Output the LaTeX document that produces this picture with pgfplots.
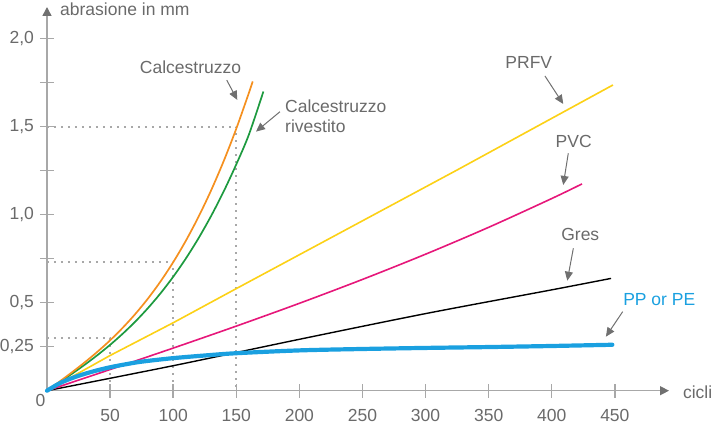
\documentclass[border=0pt]{standalone}
\usepackage{fontspec}
\setmainfont{Liberation Sans}
\usepackage{pgfplots}
\pgfplotsset{compat=1.18}
\usetikzlibrary{arrows.meta}
\definecolor{cOrange}{HTML}{F5901F}
\definecolor{cGreen}{HTML}{1D9A3F}
\definecolor{cYellow}{HTML}{FCD116}
\definecolor{cPink}{HTML}{E6177A}
\definecolor{cBlue}{HTML}{1AA0E0}
\definecolor{txtgray}{HTML}{6A6A6A}
\definecolor{axisgray}{HTML}{A8A8A8}
\definecolor{dotgray}{HTML}{A8A8A8}
\definecolor{arrgray}{HTML}{707070}
\begin{document}
\fontsize{17.5}{21}\selectfont
\begin{tikzpicture}
\begin{axis}[
  name=ax, at={(0,0)}, anchor=south west,
  scale only axis, width=622pt, height=383.7pt,
  xmin=0, xmax=492.9, ymin=0, ymax=2.18,
  enlargelimits=false, clip=false,
  axis lines=left,
  axis line style={draw=axisgray, line width=1.4pt, -{Triangle[length=9pt,width=9pt,color=arrgray]}},
  xtick={50,100,...,450},
  ytick={0.25,0.5,1,1.5,2},
  yticklabels={{0,25},{0,5},{1,0},{1,5},{2,0}},
  extra y ticks={0.75,1.25,1.75},
  extra y tick labels={},
  tick align=center,
  major tick length=14pt,
  tick style={draw=axisgray, line width=1.4pt},
  every tick label/.append style={font=\fontsize{17.5}{21}\selectfont, text=txtgray},
  xticklabel style={yshift=-6pt},
  /pgf/number format/assume math mode=true,
]
% dotted guide lines
\addplot[draw=dotgray, line width=1.8pt, dash pattern=on 1.8pt off 5.2pt] coordinates {(0,1.5) (150,1.5) (150,0)};
\addplot[draw=dotgray, line width=1.8pt, dash pattern=on 1.8pt off 5.2pt] coordinates {(0,0.733) (100,0.733) (100,0)};
\addplot[draw=dotgray, line width=1.8pt, dash pattern=on 1.8pt off 5.2pt] coordinates {(0,0.298) (50,0.298) (50,0)};
% Gres
\addplot[black, line width=1.4pt, smooth] coordinates {(0,0) (100,0.142) (200,0.292) (300,0.438) (400,0.573) (447,0.638)};
% PVC
\addplot[cPink, line width=1.6pt, smooth] coordinates {(0,0) (50,0.1203) (100,0.2421) (150,0.367) (200,0.4965) (250,0.6322) (300,0.7756) (350,0.9283) (400,1.0918) (424,1.175)};
% PRFV
\addplot[cYellow, line width=1.6pt] coordinates {(0,0) (50,0.2) (100,0.386) (150,0.58) (325,1.254) (448.5,1.737)};
% Calcestruzzo rivestito
\addplot[cGreen, line width=1.7pt, smooth] coordinates {(0,0) (10,0.0481) (20,0.0971) (30,0.1482) (40,0.2023) (50,0.2605) (60,0.3237) (70,0.3929) (80,0.4692) (90,0.5536) (100,0.6471) (110,0.7507) (120,0.8653) (130,0.9921) (140,1.132) (150,1.2861) (160,1.4551) (171.5,1.70)};
% Calcestruzzo
\addplot[cOrange, line width=1.7pt, smooth] coordinates {(0,0) (10,0.0522) (20,0.1057) (30,0.1617) (40,0.2214) (50,0.286) (60,0.3574) (70,0.436) (80,0.5235) (90,0.6211) (100,0.73) (110,0.8515) (120,0.9869) (130,1.1374) (140,1.3042) (150,1.4888) (160,1.6922) (163,1.757)};
% PP or PE
\addplot[cBlue, line width=4.2pt, smooth, line cap=round] coordinates {(0,0) (10,0.042) (20,0.072) (30,0.096) (40,0.116) (50,0.133) (60,0.147) (75,0.165) (100,0.185) (125,0.2) (150,0.213) (200,0.229) (250,0.237) (300,0.243) (350,0.248) (400,0.254) (448,0.261)};

% labels
\node[text=txtgray] at (axis cs:113.7,1.839) {Calcestruzzo};
\node[text=txtgray, anchor=west, align=left, inner sep=0pt] at (axis cs:188.6,1.558) {Calcestruzzo\\[-1pt]rivestito};
\node[text=txtgray] at (axis cs:381.8,1.862) {PRFV};
\node[text=txtgray] at (axis cs:417.4,1.415) {PVC};
\node[text=txtgray] at (axis cs:422.6,0.885) {Gres};
\node[text=cBlue] at (axis cs:485.2,0.515) {PP or PE};
\node[text=txtgray, anchor=west, inner sep=0pt] at (axis cs:503.9,-0.006) {cicli};
\node[text=txtgray, anchor=west, inner sep=0pt] at (axis cs:10.3,2.166) {abrasione in mm};
\node[text=txtgray] at (axis cs:-5.2,-0.053) {0};

\tikzset{ann/.style={draw=arrgray, line width=1pt, -{Triangle[length=9pt,width=8pt]}}}
\draw[ann] (axis cs:142.4,1.765) -- (axis cs:150.8,1.652);
\draw[ann] (axis cs:184.6,1.585) -- (axis cs:165.6,1.472);
\draw[ann] (axis cs:394.6,1.788) -- (axis cs:409.1,1.629);
\draw[ann] (axis cs:413.1,1.349) -- (axis cs:409.1,1.169);
\draw[ann] (axis cs:417.1,0.809) -- (axis cs:412.3,0.625);
\draw[ann] (axis cs:456.2,0.449) -- (axis cs:442.9,0.307);
\end{axis}
\pgfresetboundingbox
\path[use as bounding box] (-47pt,-40.3pt) rectangle (669pt,390.7pt);
\end{tikzpicture}
\end{document}
